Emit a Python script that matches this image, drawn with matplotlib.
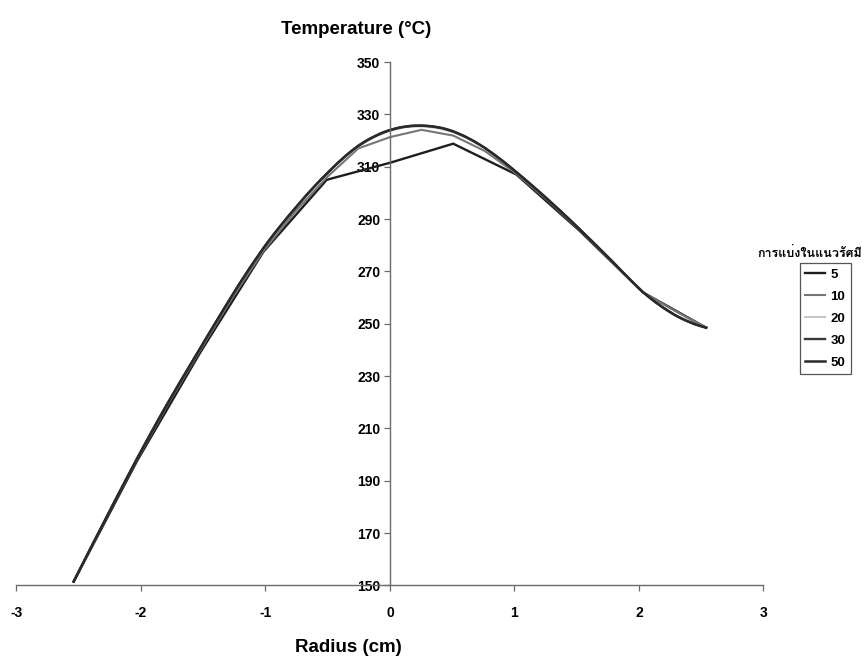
"""Radial temperature profile for different numbers of radial divisions."""

import matplotlib
matplotlib.use("Agg")
import matplotlib.pyplot as plt
from matplotlib import font_manager
from matplotlib.ft2font import FT2Font
import numpy as np

R_MAX = 2.54  # cm
DIVISIONS = [5, 10, 20, 30, 50]
LEGEND_TITLE = "การแบ่งในแนวรัศมี"

# temperature (degC) at each node, from -R to +R
T_5 = [151.5, 197.5, 239.0, 277.5, 305.0, 311.5, 318.8, 307.0, 285.5, 262.0, 248.5]
T_10 = [151.5, 175.1, 198.1, 219.7, 239.9, 259.7, 277.8, 292.8, 305.9, 317.0, 321.3,
        324.1, 321.9, 316.0, 307.3, 297.0, 285.8, 274.0, 262.0, 255.0, 248.5]
T_20 = [151.5, 163.4, 175.2, 186.9, 198.4, 209.5, 220.2, 230.5, 240.6, 250.7, 260.6,
        270.1, 278.9, 286.8, 294.1, 301.0, 307.3, 312.8, 317.7, 321.3, 323.7,
        325.1, 325.4, 324.8, 323.2, 320.5, 317.2, 312.8, 307.9, 302.8, 297.4,
        291.8, 286.1, 280.2, 274.2, 268.0, 262.1, 257.3, 253.4, 250.5, 248.5]
T_30 = [151.5, 159.5, 167.4, 175.2, 183.0, 190.8, 198.4, 205.8, 213.1, 220.2, 227.1,
        233.9, 240.6, 247.4, 254.0, 260.6, 267.0, 273.1, 278.9, 284.3, 289.3,
        294.1, 298.8, 303.2, 307.3, 311.3, 314.8, 318.0, 320.5, 322.5, 324.0,
        325.0, 325.6, 325.7, 325.4, 324.7, 323.5, 321.8, 319.7, 317.2, 314.3,
        311.2, 307.9, 304.5, 301.0, 297.4, 293.7, 290.0, 286.1, 282.2, 278.2,
        274.2, 270.1, 266.0, 262.1, 258.8, 255.9, 253.4, 251.4, 249.7, 248.5]
T_50 = [151.5, 156.3, 161.0, 165.8, 170.5, 175.2, 179.9, 184.6, 189.2, 193.8, 198.4,
        202.9, 207.3, 211.7, 216.0, 220.2, 224.4, 228.5, 232.5, 236.6, 240.6,
        244.7, 248.7, 252.7, 256.7, 260.6, 264.5, 268.2, 271.9, 275.4, 278.9,
        282.2, 285.3, 288.3, 291.3, 294.1, 296.9, 299.7, 302.3, 304.9, 307.3,
        309.7, 312.0, 314.2, 316.2, 318.0, 319.6, 320.9, 322.1, 323.2, 324.0,
        324.7, 325.2, 325.5, 325.7, 325.7, 325.6, 325.3, 324.9, 324.3, 323.5,
        322.5, 321.4, 320.1, 318.7, 317.2, 315.5, 313.7, 311.9, 309.9, 307.9,
        305.9, 303.8, 301.7, 299.6, 297.4, 295.2, 293.0, 290.7, 288.4, 286.1,
        283.7, 281.4, 279.0, 276.6, 274.2, 271.7, 269.2, 266.8, 264.4, 262.1,
        260.1, 258.2, 256.5, 254.9, 253.4, 252.1, 251.0, 250.0, 249.2, 248.5]
SERIES = [T_5, T_10, T_20, T_30, T_50]

COLORS = ["#1e1e1e", "#767676", "#c4c4c4", "#3a3a3a", "#2a2a2a"]
WIDTHS = [1.7, 1.5, 1.4, 1.7, 1.8]

X_TICKS = [-3, -2, -1, 0, 1, 2, 3]
Y_TICKS = [150, 170, 190, 210, 230, 250, 270, 290, 310, 330, 350]


def pick_family(names):
    for n in names:
        try:
            font_manager.findfont(n, fallback_to_default=False)
            return n
        except Exception:
            pass
    return "DejaVu Sans"


def thai_family():
    for f in font_manager.fontManager.ttflist:
        try:
            if 0x0E01 in FT2Font(f.fname).get_charmap():
                return f.name
        except Exception:
            pass
    return "DejaVu Sans"


def main():
    fam = pick_family(["Liberation Sans Narrow", "Liberation Sans", "Arial"])
    plt.rcParams["font.family"] = [fam, "DejaVu Sans"]
    plt.rcParams["font.weight"] = "bold"
    plt.rcParams["axes.unicode_minus"] = False

    fig = plt.figure(figsize=(8.65, 6.62), dpi=100)
    ax = fig.add_axes([0.019, 0.1156, 0.8636, 0.7907])

    for n, temps, c, lw in zip(DIVISIONS, SERIES, COLORS, WIDTHS):
        r = np.linspace(-R_MAX, R_MAX, 2 * n + 1)
        ax.plot(r, temps, color=c, linewidth=lw, label=str(n),
                solid_joinstyle="miter")

    ax.set_xlim(-3, 3)
    ax.set_ylim(150, 350)
    ax.set_xticks(X_TICKS)
    ax.set_yticks(Y_TICKS)
    ax.spines["left"].set_position(("data", 0))
    ax.spines["top"].set_visible(False)
    ax.spines["right"].set_visible(False)
    for s in ("left", "bottom"):
        ax.spines[s].set_color("#6a6a6a")
        ax.spines[s].set_linewidth(1.0)
    ax.tick_params(axis="both", direction="out", length=4, width=0.9,
                   color="#6a6a6a", labelsize=10)
    ax.tick_params(axis="x", pad=11)
    ax.tick_params(axis="y", pad=3)

    fig.text(356 / 865, 1 - 29 / 662, "Temperature (°C)", ha="center", va="center",
             fontsize=13.5, fontweight="bold")
    fig.text(348 / 865, 1 - 647 / 662, "Radius (cm)", ha="center", va="center",
             fontsize=13.5, fontweight="bold")

    th = thai_family()
    fig.text(810 / 865, 1 - 253 / 662, LEGEND_TITLE, ha="center", va="center",
             fontsize=9, fontweight="bold", family=[th, "DejaVu Sans"])
    leg = ax.legend(loc="upper left", bbox_to_anchor=(800 / 865, 1 - 263 / 662),
                    bbox_transform=fig.transFigure, borderaxespad=0,
                    handlelength=1.5, handletextpad=0.4, labelspacing=0.75,
                    borderpad=0.4, fontsize=9.5, fancybox=False, framealpha=1)
    leg.get_frame().set_edgecolor("#555555")
    leg.get_frame().set_linewidth(0.9)

    fig.savefig("out.png", dpi=100, facecolor="white")
    plt.close(fig)


if __name__ == "__main__":
    main()
